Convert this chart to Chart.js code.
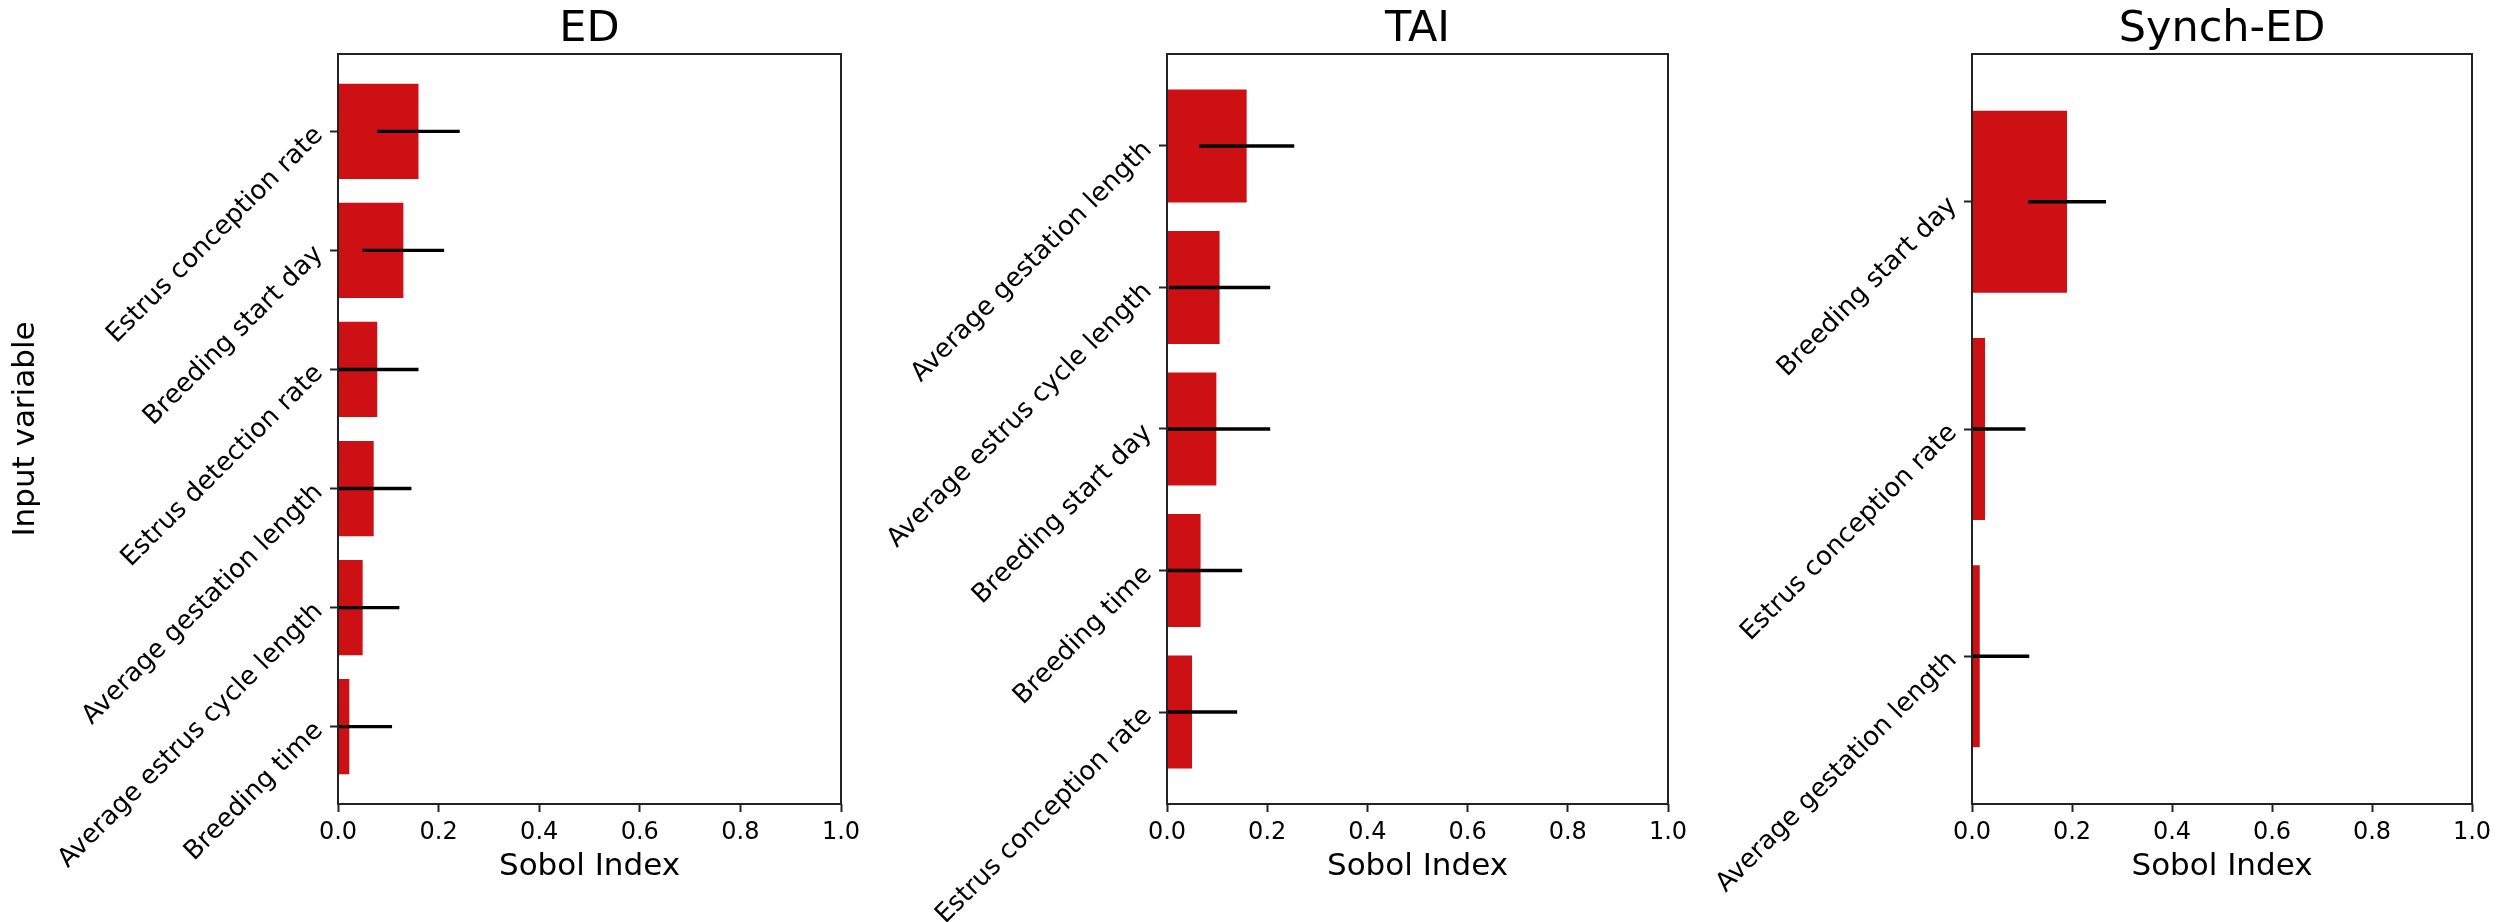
<!DOCTYPE html>
<html>
<head>
<meta charset="utf-8">
<script src="https://cdn.jsdelivr.net/npm/chart.js@4/dist/chart.umd.min.js"></script>
<style>
html,body{margin:0;padding:0;background:#ffffff;width:2506px;height:922px;overflow:hidden;position:relative}
canvas{position:absolute;top:0}
</style>
</head>
<body>
<canvas id="c1" width="871" height="922" style="left:0px"></canvas>
<canvas id="c2" width="848" height="922" style="left:850px"></canvas>
<canvas id="c3" width="822" height="922" style="left:1680px"></canvas>
<script>
// ---- data ----
const edLabels = ["Estrus conception rate", "Breeding start day", "Estrus detection rate",
  "Average gestation length", "Average estrus cycle length", "Breeding time"];
const edValues = [0.160, 0.130, 0.078, 0.071, 0.049, 0.0225];
const edErrors = [0.082, 0.081, 0.082, 0.075, 0.073, 0.085];

const taiLabels = ["Average gestation length", "Average estrus cycle length", "Breeding start day",
  "Breeding time", "Estrus conception rate"];
const taiValues = [0.159, 0.105, 0.0985, 0.067, 0.050];
const taiErrors = [0.095, 0.101, 0.1075, 0.083, 0.090];

const synchLabels = ["Breeding start day", "Estrus conception rate", "Average gestation length"];
const synchValues = [0.190, 0.026, 0.0155];
const synchErrors = [0.078, 0.081, 0.099];

const xTickValues = [0, 0.2, 0.4, 0.6, 0.8, 1.0];
const titles = ["ED", "TAI", "Synch-ED"];

// ---- styling ----
const FONT = "'DejaVu Sans', 'Liberation Sans', sans-serif";
const BAR_COLOR = "#cd1013";
const AXIS_COLOR = "#222222";
const CAT_PAD = 0.65;

const errorBarPlugin = {
  id: 'errorBars',
  afterDatasetsDraw(chart) {
    const ds = chart.data.datasets[0];
    const xs = chart.scales.x, ys = chart.scales.y;
    const a = chart.chartArea;
    const ctx = chart.ctx;
    ctx.save();
    ctx.beginPath();
    ctx.rect(a.left, a.top, a.right - a.left, a.bottom - a.top);
    ctx.clip();
    ctx.strokeStyle = '#000';
    ctx.lineWidth = 3.3;
    ds.data.forEach((pt, i) => {
      const e = ds.errors[i];
      const y = ys.getPixelForValue(pt.y);
      const x0 = xs.getPixelForValue(pt.x - e);
      const x1 = xs.getPixelForValue(pt.x + e);
      ctx.beginPath();
      ctx.moveTo(x0, y);
      ctx.lineTo(x1, y);
      ctx.stroke();
    });
    ctx.restore();
    // frame (spines)
    ctx.save();
    ctx.strokeStyle = AXIS_COLOR;
    ctx.lineWidth = 2;
    ctx.strokeRect(a.left, a.top, a.right - a.left, a.bottom - a.top);
    ctx.restore();
  },
  afterDraw(chart) {
    const a = chart.chartArea;
    const ctx = chart.ctx;
    ctx.save();
    ctx.fillStyle = '#000';
    ctx.font = "43px " + FONT;
    ctx.textAlign = 'center';
    ctx.textBaseline = 'alphabetic';
    ctx.fillText(chart.options.panelTitle, (a.left + a.right) / 2, 41);
    ctx.restore();
  }
};

function makeChart(canvasId, title, labels, values, errors, yWidth, showYTitle) {
  const n = labels.length;
  return new Chart(document.getElementById(canvasId), {
    type: 'bar',
    data: {
      datasets: [{
        data: values.map((v, i) => ({ x: v, y: i })),
        errors: errors,
        backgroundColor: BAR_COLOR,
        borderWidth: 0,
        barPercentage: 0.8,
        categoryPercentage: 1.0
      }]
    },
    options: {
      panelTitle: title,
      indexAxis: 'y',
      responsive: false,
      devicePixelRatio: 1,
      animation: false,
      layout: { padding: { left: 0, right: 30, top: 54, bottom: 0 } },
      plugins: {
        legend: { display: false },
        tooltip: { enabled: false },
        title: { display: false }
      },
      scales: {
        x: {
          type: 'linear',
          position: 'bottom',
          min: 0,
          max: 1,
          afterBuildTicks: s => { s.ticks = xTickValues.map(v => ({ value: v })); },
          ticks: {
            callback: v => Number(v).toFixed(1),
            color: '#000',
            font: { family: FONT, size: 24 },
            padding: 6,
            maxRotation: 0,
            minRotation: 0
          },
          grid: { drawOnChartArea: false, drawTicks: true, tickLength: 8, tickWidth: 2, tickColor: AXIS_COLOR, color: AXIS_COLOR },
          border: { display: false },
          title: {
            display: true,
            text: 'Sobol Index',
            color: '#000',
            font: { family: FONT, size: 31, lineHeight: 1.2 },
            padding: { top: 0, bottom: 36 }
          },
          afterFit: s => { s.height = 118; }
        },
        y: {
          type: 'linear',
          position: 'left',
          reverse: true,
          offset: false,
          min: -CAT_PAD,
          max: n - 1 + CAT_PAD,
          afterBuildTicks: s => { s.ticks = labels.map((_, i) => ({ value: i })); },
          ticks: {
            callback: (v, i) => labels[i],
            color: '#000',
            font: { family: FONT, size: 26 },
            padding: 11,
            minRotation: 45,
            maxRotation: 45,
            autoSkip: false
          },
          grid: { offset: false, drawOnChartArea: false, drawTicks: true, tickLength: 8, tickWidth: 2, tickColor: AXIS_COLOR, color: AXIS_COLOR },
          border: { display: false },
          title: {
            display: showYTitle,
            text: 'Input variable',
            color: '#000',
            font: { family: FONT, size: 31, lineHeight: 1.2 },
            padding: { top: 7, bottom: 0 }
          },
          afterFit: s => { s.width = yWidth; }
        }
      }
    },
    plugins: [errorBarPlugin]
  });
}

makeChart('c1', titles[0], edLabels, edValues, edErrors, 338, true);
makeChart('c2', titles[1], taiLabels, taiValues, taiErrors, 317, false);
makeChart('c3', titles[2], synchLabels, synchValues, synchErrors, 292, false);
</script>
</body>
</html>
